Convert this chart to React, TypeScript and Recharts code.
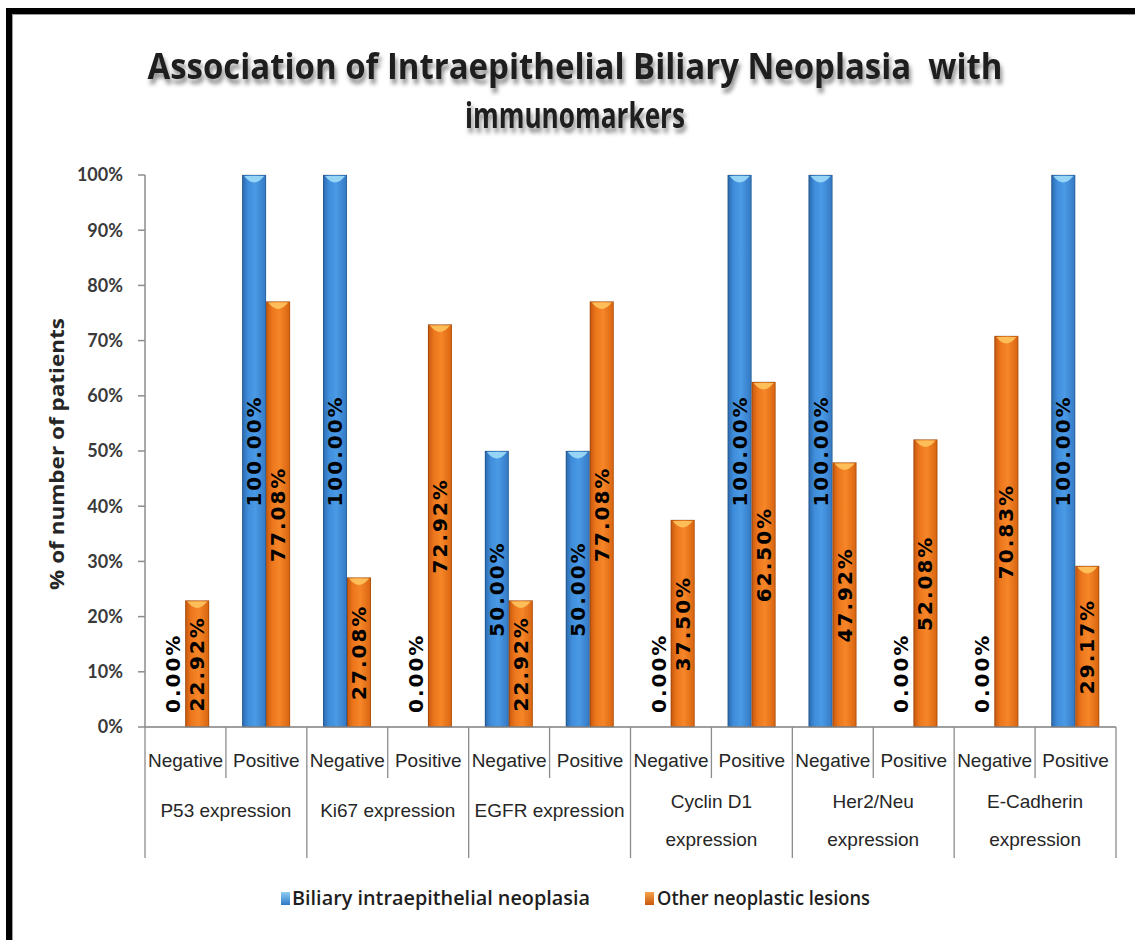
import { Bar, BarChart, LabelList, XAxis, YAxis } from "recharts";

const W = 1135;
const H = 940;
const PLOT_LEFT = 145;
const PLOT_RIGHT = 19;
const PLOT_TOP = 175;
const X_AXIS_H = 213;

const subLabels = [
  "Negative", "Positive", "Negative", "Positive", "Negative", "Positive",
  "Negative", "Positive", "Negative", "Positive", "Negative", "Positive",
];
const groupLabels = [
  ["P53 expression"],
  ["Ki67 expression"],
  ["EGFR expression"],
  ["Cyclin D1", "expression"],
  ["Her2/Neu", "expression"],
  ["E-Cadherin", "expression"],
];
const biliary = [0, 100, 100, 0, 50, 50, 0, 100, 100, 0, 0, 100];
const other = [22.92, 77.08, 27.08, 72.92, 22.92, 77.08, 37.5, 62.5, 47.92, 52.08, 70.83, 29.17];
const yTicks = [0, 10, 20, 30, 40, 50, 60, 70, 80, 90, 100];

const data = subLabels.map((name, i) => ({
  name,
  biliary: biliary[i],
  other: other[i],
}));

const BAND = (W - PLOT_LEFT - PLOT_RIGHT) / subLabels.length;

const pct = (v: number) => `${v.toFixed(2)}%`;

function CylBar(props: any) {
  const { x, y, width, height, gid, cap } = props;
  if (!height || height <= 0) return null;
  return (
    <g>
      <rect x={x} y={y} width={width} height={height} fill={`url(#${gid})`} />
      <rect x={x + 0.5} y={y} width={width - 1} height={height} fill="none" stroke="rgba(0,0,0,0.18)" />
      <path
        d={`M${x + 2},${y + 1} L${x + width - 2},${y + 1} Q${x + width / 2},${y + 14} ${x + 2},${y + 1} Z`}
        fill={cap}
        opacity={0.9}
      />
    </g>
  );
}

function BarValue(props: any) {
  const { x, y, width, height, value } = props;
  const cx = x + width / 2;
  const style = {
    fontFamily: "'DejaVu Sans', sans-serif",
    fontWeight: 700,
    fontSize: 20,
    letterSpacing: 2,
  };
  if (!value) {
    const by = y + height - 14;
    return (
      <text x={cx} y={by} transform={`rotate(-90 ${cx} ${by})`} textAnchor="start" dominantBaseline="central" fill="#000" style={style}>
        {pct(Number(value))}
      </text>
    );
  }
  const cy = y + height / 2;
  return (
    <text x={cx} y={cy} transform={`rotate(-90 ${cx} ${cy})`} textAnchor="middle" dominantBaseline="central" fill="#000" style={style}>
      {pct(Number(value))}
    </text>
  );
}

function XTick(props: any) {
  const { x, y, payload, index } = props;
  const i = index ?? payload.index;
  const left = x - BAND / 2;
  const right = x + BAND / 2;
  const font = { fontFamily: "'Liberation Sans', Arial, sans-serif", fontSize: 19 };
  const group = groupLabels[Math.floor(i / 2)];
  return (
    <g>
      <line x1={left} y1={y} x2={left} y2={y + (i % 2 === 0 ? 131 : 51)} stroke="#8c8c8c" strokeWidth={1.3} />
      {i === subLabels.length - 1 && (
        <line x1={right} y1={y} x2={right} y2={y + 131} stroke="#8c8c8c" strokeWidth={1.3} />
      )}
      <text x={x} y={y + 40} textAnchor="middle" fill="#262626" style={font}>
        {payload.value}
      </text>
      {i % 2 === 0 &&
        group.map((line, k) => (
          <text
            key={k}
            x={right}
            y={group.length === 1 ? y + 90 : y + 81 + k * 38}
            textAnchor="middle"
            fill="#262626"
            style={font}
          >
            {line}
          </text>
        ))}
    </g>
  );
}

export default function App() {
  const titleStyle = {
    fontFamily: "'Open Sans', sans-serif",
    fontWeight: 700,
    fontSize: 35,
    whiteSpace: "pre" as const,
    filter: "drop-shadow(2px 5px 2px rgba(0,0,0,0.45))",
  };
  return (
    <div style={{ position: "absolute", left: 0, top: 0, width: W, height: H, background: "#fff" }}>
      <BarChart
        width={W}
        height={H}
        data={data}
        margin={{ top: PLOT_TOP, right: PLOT_RIGHT, bottom: 0, left: 0 }}
        barCategoryGap="20%"
        barGap={0}
      >
        <defs>
          <linearGradient id="blueFill" x1="0" y1="0" x2="1" y2="0">
            <stop offset="0%" stopColor="#2a68ad" />
            <stop offset="25%" stopColor="#3f8ddb" />
            <stop offset="55%" stopColor="#4a9ae6" />
            <stop offset="100%" stopColor="#3478c2" />
          </linearGradient>
          <linearGradient id="orangeFill" x1="0" y1="0" x2="1" y2="0">
            <stop offset="0%" stopColor="#c5570e" />
            <stop offset="25%" stopColor="#ec761c" />
            <stop offset="55%" stopColor="#f68628" />
            <stop offset="100%" stopColor="#d8640f" />
          </linearGradient>
        </defs>
        <XAxis
          dataKey="name"
          height={X_AXIS_H}
          interval={0}
          tickLine={false}
          tickSize={0}
          tickMargin={0}
          axisLine={{ stroke: "#7f7f7f", strokeWidth: 1.5 }}
          tick={<XTick />}
        />
        <YAxis
          width={PLOT_LEFT}
          domain={[0, 100]}
          ticks={yTicks}
          interval={0}
          tickFormatter={(v) => `${v}%`}
          tickSize={7}
          tickMargin={15}
          axisLine={{ stroke: "#8c8c8c", strokeWidth: 1.5 }}
          tickLine={{ stroke: "#8c8c8c", strokeWidth: 1.5 }}
          tick={{ fill: "#3a3a3a", fontSize: 18, fontWeight: 700, fontFamily: "Lato, sans-serif" }}
        />
        <Bar
          dataKey="biliary"
          name="Biliary intraepithelial neoplasia"
          isAnimationActive={false}
          shape={(p: any) => <CylBar {...p} gid="blueFill" cap="#9fdcf7" />}
        >
          <LabelList dataKey="biliary" content={<BarValue />} />
        </Bar>
        <Bar
          dataKey="other"
          name="Other neoplastic lesions"
          isAnimationActive={false}
          shape={(p: any) => <CylBar {...p} gid="orangeFill" cap="#ffc45e" />}
        >
          <LabelList dataKey="other" content={<BarValue />} />
        </Bar>
      </BarChart>

      <svg
        width={W}
        height={H}
        style={{ position: "absolute", left: 0, top: 0, pointerEvents: "none" }}
      >
        <defs>
          <linearGradient id="legBlue" x1="0" y1="0" x2="0" y2="1">
            <stop offset="0%" stopColor="#8fcdf2" />
            <stop offset="100%" stopColor="#2f79c6" />
          </linearGradient>
          <linearGradient id="legOrange" x1="0" y1="0" x2="0" y2="1">
            <stop offset="0%" stopColor="#f7a24a" />
            <stop offset="100%" stopColor="#c9580d" />
          </linearGradient>
        </defs>

        {/* frame */}
        <rect x={6} y={8} width={W - 6} height={6} fill="#000" />
        <rect x={6} y={8} width={6} height={H - 8} fill="#000" />
        <line x1={12} y1={14.5} x2={W} y2={14.5} stroke="#9a9a9a" />
        <line x1={12.5} y1={14} x2={12.5} y2={H} stroke="#9a9a9a" />

        {/* title */}
        <text x={575} y={79} textAnchor="middle" fill="#1e1e1e" textLength={855} lengthAdjust="spacingAndGlyphs" style={titleStyle}>
          {"Association of Intraepithelial Biliary Neoplasia  with"}
        </text>
        <text x={575} y={128} textAnchor="middle" fill="#1e1e1e" textLength={220} lengthAdjust="spacingAndGlyphs" style={titleStyle}>
          immunomarkers
        </text>

        {/* y axis title */}
        <text
          x={64}
          y={454}
          transform="rotate(-90 64 454)"
          textAnchor="middle"
          fill="#262626"
          textLength={272}
          lengthAdjust="spacingAndGlyphs"
          style={{ fontFamily: "'Open Sans', sans-serif", fontWeight: 700, fontSize: 19 }}
        >
          % of number of patients
        </text>

        {/* legend */}
        <rect x={281} y={892} width={9} height={13} fill="url(#legBlue)" />
        <text
          x={292}
          y={905}
          fill="#1e1e1e"
          textLength={298}
          lengthAdjust="spacingAndGlyphs"
          style={{ fontFamily: "'Open Sans', sans-serif", fontWeight: 600, fontSize: 19 }}
        >
          Biliary intraepithelial neoplasia
        </text>
        <rect x={645} y={892} width={9} height={13} fill="url(#legOrange)" />
        <text
          x={657}
          y={905}
          fill="#1e1e1e"
          textLength={213}
          lengthAdjust="spacingAndGlyphs"
          style={{ fontFamily: "'Open Sans', sans-serif", fontWeight: 600, fontSize: 19 }}
        >
          Other neoplastic lesions
        </text>
      </svg>
    </div>
  );
}
